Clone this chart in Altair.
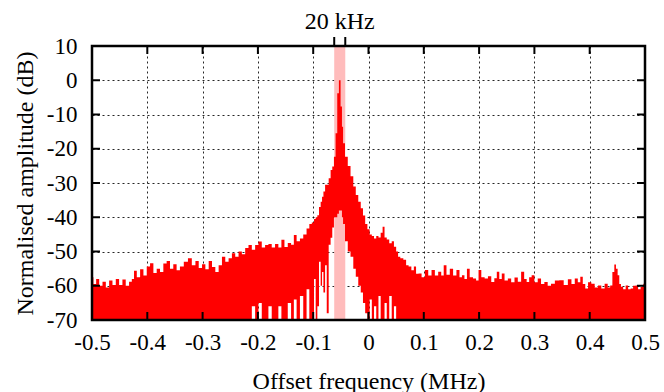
import altair as alt
import pandas as pd

# ---- data -------------------------------------------------------------
freq = [
    -0.500, -0.495, -0.490, -0.484, -0.478, -0.472, -0.466, -0.460, -0.454, -0.448,
    -0.442, -0.436, -0.430, -0.426, -0.422, -0.416, -0.410, -0.404, -0.398, -0.392,
    -0.386, -0.380, -0.374, -0.368, -0.362, -0.356, -0.350, -0.344, -0.338, -0.330,
    -0.323, -0.316, -0.310, -0.304, -0.298, -0.292, -0.286, -0.280, -0.274, -0.268,
    -0.262, -0.256, -0.250, -0.244, -0.238, -0.232, -0.226, -0.220, -0.214, -0.208,
    -0.202, -0.196, -0.190, -0.184, -0.178, -0.172, -0.166, -0.160, -0.155, -0.149,
    -0.143, -0.137, -0.133, -0.127, -0.121, -0.115, -0.109, -0.105, -0.100, -0.097,
    -0.094, -0.091, -0.088, -0.085, -0.083, -0.080, -0.077, -0.074, -0.070, -0.067,
    -0.064, -0.061, -0.058, -0.055, -0.052, -0.049, -0.047, -0.045, -0.040, -0.035,
    -0.030, -0.025, -0.021, -0.016, -0.012, -0.008, -0.004, 0.000, 0.004, 0.008,
    0.012, 0.016, 0.020, 0.024, 0.027, 0.031, 0.035, 0.040, 0.044, 0.048,
    0.052, 0.055, 0.060, 0.066, 0.070, 0.075, 0.080, 0.084, 0.088, 0.093,
    0.099, 0.105, 0.111, 0.117, 0.123, 0.129, 0.134, 0.138, 0.144, 0.150,
    0.156, 0.162, 0.167, 0.171, 0.176, 0.180, 0.186, 0.192, 0.197, 0.201,
    0.207, 0.213, 0.219, 0.225, 0.230, 0.234, 0.239, 0.243, 0.249, 0.255,
    0.261, 0.267, 0.273, 0.279, 0.284, 0.288, 0.293, 0.297, 0.303, 0.309,
    0.315, 0.321, 0.327, 0.333, 0.341, 0.349, 0.357, 0.364, 0.370, 0.376,
    0.381, 0.385, 0.390, 0.394, 0.400, 0.406, 0.412, 0.418, 0.424, 0.430,
    0.435, 0.439, 0.443, 0.446, 0.449, 0.452, 0.455, 0.458, 0.463, 0.467,
    0.472, 0.476, 0.481, 0.485, 0.490, 0.494, 0.500,
]

upper_db = [
    -57.5, -59.5, -58.0, -60.0, -58.8, -60.5, -58.5, -59.8, -58.0, -59.8,
    -58.2, -60.0, -58.8, -58.0, -55.6, -57.5, -55.2, -57.0, -54.4, -53.4,
    -56.3, -55.0, -56.0, -53.5, -52.8, -55.0, -53.7, -55.5, -54.4, -53.0,
    -52.0, -54.0, -52.8, -54.8, -53.7, -55.2, -52.8, -54.5, -56.0, -54.0,
    -51.5, -53.0, -52.0, -50.5, -51.5, -50.0, -50.8, -49.0, -48.1, -49.5,
    -48.1, -47.1, -48.8, -48.1, -47.8, -48.8, -47.8, -48.8, -46.6, -48.7,
    -47.5, -48.0, -45.2, -47.0, -46.2, -45.0, -43.3, -42.0, -41.5, -40.5,
    -40.0, -39.4, -37.0, -35.5, -34.0, -32.5, -30.5, -30.5, -28.6, -26.2,
    -25.2, -22.3, -15.5, -3.8, 0.0, -7.7, -13.6, -18.4, -22.3, -25.0,
    -28.0, -31.0, -33.5, -35.5, -37.4, -39.5, -42.0, -43.5, -45.0, -45.5,
    -46.2, -45.5, -45.9, -44.5, -42.8, -45.9, -46.5, -47.6, -47.0, -48.6,
    -50.0, -51.5, -52.0, -52.4, -54.0, -54.4, -55.5, -54.4, -56.5, -56.4,
    -57.5, -55.4, -57.0, -55.4, -57.0, -55.9, -57.0, -54.0, -56.8, -55.0,
    -57.0, -55.4, -57.5, -56.9, -58.0, -55.0, -57.5, -57.9, -58.5, -55.4,
    -57.5, -57.9, -57.2, -58.9, -57.8, -55.9, -58.0, -56.4, -58.5, -57.9,
    -59.0, -57.6, -58.8, -55.9, -58.0, -58.9, -57.5, -56.9, -59.0, -57.9,
    -59.5, -58.9, -60.0, -59.4, -58.5, -58.4, -59.8, -58.1, -59.5, -57.9,
    -59.0, -57.4, -59.5, -60.8, -59.0, -59.4, -60.5, -59.9, -60.8, -59.4,
    -60.5, -59.9, -56.0, -53.8, -55.0, -56.9, -59.5, -60.3, -61.0, -59.9,
    -61.0, -60.8, -60.0, -59.9, -61.0, -60.3, -59.4,
]

# lower edge of the trace where it does not reach the -70 dB floor
gap_freq = [
    -0.208, -0.196, -0.178, -0.160, -0.143, -0.133, -0.121, -0.109, -0.097, -0.091,
    -0.088, -0.085, -0.083, -0.080, -0.077, -0.074, -0.070, -0.067, -0.064, -0.061,
    -0.058, -0.055, -0.052, -0.049, -0.047, -0.045, -0.040, -0.035, -0.030, -0.025,
    -0.021, -0.016, -0.012, -0.008, -0.004, 0.004, 0.012, 0.020, 0.031, 0.040,
    0.048,
]
gap_lower_db = [
    -66, -65, -66, -66, -65, -64, -63, -61, -58, -66,
    -53, -60, -56, -62, -54, -68, -48, -46, -43, -40,
    -40, -39, -38, -38, -40, -42, -47, -50, -51.5, -55,
    -57.4, -60, -62, -65, -68, -64, -66, -63, -65, -63,
    -66,
]
floor_db = -70.0

band_lo = [-0.062]   # 20 kHz shaded band
band_hi = [-0.042]
band_label = ["20 kHz"]

x_ticks = [-0.5, -0.4, -0.3, -0.2, -0.1, 0.0, 0.1, 0.2, 0.3, 0.4, 0.5]
y_ticks = [-70, -60, -50, -40, -30, -20, -10, 0, 10]

# ---- tables -------------------------------------------------------------
assert len(freq) == len(upper_db)
assert len(gap_freq) == len(gap_lower_db)
lower_map = dict(zip(gap_freq, gap_lower_db))
spec = pd.DataFrame({
    "freq": freq,
    "upper": upper_db,
    "lower": [float(lower_map.get(f, floor_db)) for f in freq],
})
band = pd.DataFrame({"lo": band_lo, "hi": band_hi, "label": band_label})
band["mid"] = (band["lo"] + band["hi"]) / 2
edges = pd.DataFrame({"edge": band_lo + band_hi})
xt = pd.DataFrame({"v": x_ticks})
yt = pd.DataFrame({"v": y_ticks})

W, H = 553, 274
FONT = "Liberation Serif"
TL = 8  # inner tick length

xscale = alt.Scale(domain=[-0.5, 0.5], nice=False, zero=False)
yscale = alt.Scale(domain=[-70, 10], nice=False, zero=False)

XT = "Offset frequency (MHz)"
YT = "Normalised amplitude (dB)"

x_axis = alt.Axis(
    values=x_ticks, title=XT, ticks=False, domain=False,
    labelExpr="replace(format(datum.value, '.1~f'), '\u2212', '-')",
    labelFlush=False, labelOverlap=False, labelPadding=11,
    labelFont=FONT, labelFontSize=23, labelColor="black",
    titleFont=FONT, titleFontSize=24, titleFontWeight="normal", titleColor="black",
    titleBaseline="alphabetic", titleY=68,
    grid=True, gridColor="black", gridDash=[2, 3], gridWidth=1, gridOpacity=0.85,
)
y_axis = alt.Axis(
    values=y_ticks, title=YT, ticks=False, domain=False,
    labelExpr="replace(format(datum.value, 'd'), '\u2212', '-')",
    labelOverlap=False, labelPadding=15,
    labelFont=FONT, labelFontSize=23, labelColor="black",
    titleFont=FONT, titleFontSize=24, titleFontWeight="normal", titleColor="black",
    titleBaseline="alphabetic", titleX=-60, titleY=H / 2, titleAlign="center",
    grid=True, gridColor="black", gridDash=[2, 3], gridWidth=1, gridOpacity=0.85,
)


def X(field):
    return alt.X(field, scale=xscale, axis=x_axis, title=XT)


def Y(field):
    return alt.Y(field, scale=yscale, axis=y_axis, title=YT)


trace = alt.Chart(spec).mark_area(color="#ff0000", interpolate="step", clip=True).encode(
    x=X("freq:Q"), y=Y("upper:Q"), y2="lower:Q",
)

band_layer = alt.Chart(band).mark_rect(color="#ffbcbc").encode(
    x=X("lo:Q"), x2="hi:Q", y=alt.value(0), y2=alt.value(H),
)

frame = alt.Chart(band).mark_rect(filled=False, stroke="black", strokeWidth=2.5).encode(
    x=alt.value(0), x2=alt.value(W), y=alt.value(0), y2=alt.value(H)
)

tick_style = dict(color="black", strokeWidth=2)
top_ticks = alt.Chart(xt).mark_rule(**tick_style).encode(
    x=X("v:Q"), y=alt.value(0), y2=alt.value(TL))
bot_ticks = alt.Chart(xt).mark_rule(**tick_style).encode(
    x=X("v:Q"), y=alt.value(H - TL), y2=alt.value(H))
left_ticks = alt.Chart(yt).mark_rule(**tick_style).encode(
    y=Y("v:Q"), x=alt.value(0), x2=alt.value(TL))
right_ticks = alt.Chart(yt).mark_rule(**tick_style).encode(
    y=Y("v:Q"), x=alt.value(W - TL), x2=alt.value(W))

edge_ticks = alt.Chart(edges).mark_rule(color="black", strokeWidth=2).encode(
    x=X("edge:Q"), y=alt.value(-9), y2=alt.value(0))

band_text = alt.Chart(band).mark_text(
    font=FONT, fontSize=24, color="black", align="center", baseline="alphabetic"
).encode(
    x=X("mid:Q"), y=alt.value(-17), text="label:N")

chart = alt.layer(
    band_layer, trace, top_ticks, bot_ticks, left_ticks, right_ticks,
    frame, edge_ticks, band_text,
).properties(
    width=W, height=H,
    autosize=alt.AutoSizeParams(type="none"),
    padding={"left": 92, "top": 46, "right": 19, "bottom": 72},
).configure_view(stroke=None).configure(background="white")

chart.save("out.html", embed_options={"renderer": "svg", "actions": False})
